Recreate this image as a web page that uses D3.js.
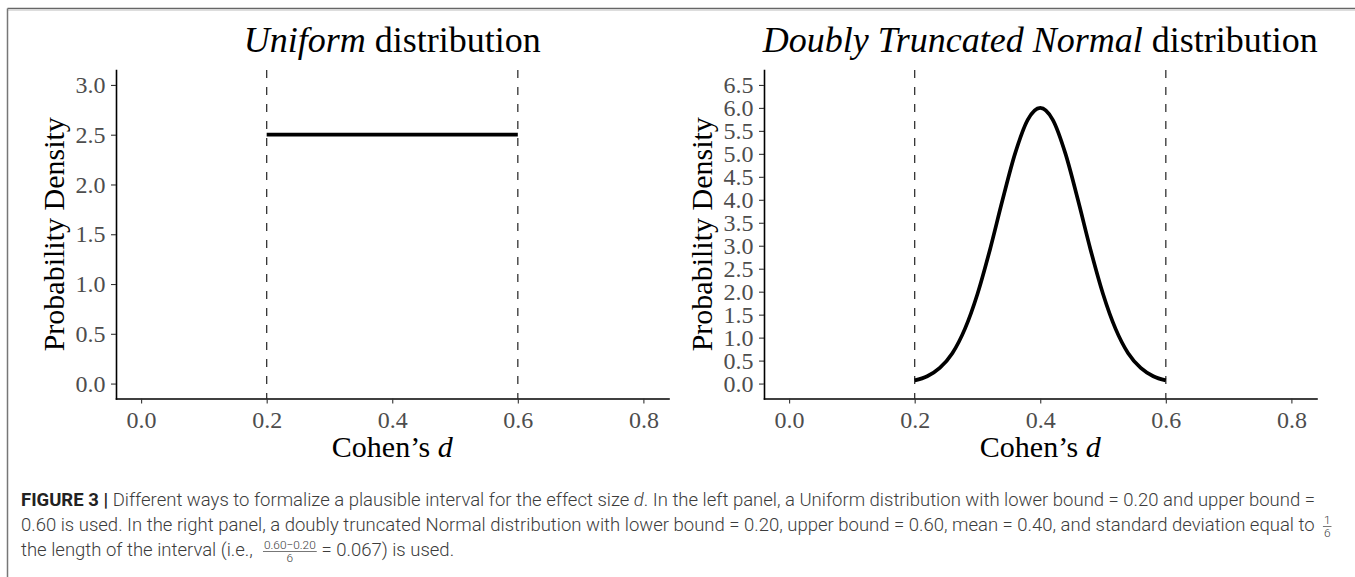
<!DOCTYPE html>
<html>
<head>
<meta charset="utf-8">
<script src="https://cdn.jsdelivr.net/npm/d3@7/dist/d3.min.js"></script>
<style>
  body { margin: 0; background: #fff; }
  .serif text { font-family: "Liberation Serif", "Times New Roman", serif; }
  .caption text { font-family: Roboto, "Liberation Sans", Arial, sans-serif; }
</style>
</head>
<body>
<svg id="fig" width="1355" height="577"></svg>
<script>
// ---- data ----
const xLimits = [0, 0.8];
const xTicks = [0.0, 0.2, 0.4, 0.6, 0.8];
const bounds = [0.2, 0.6];

const uniformYLimits = [0, 3];
const uniformYTicks = [0, 0.5, 1.0, 1.5, 2.0, 2.5, 3.0];
const uniformX = [0.2, 0.6];
const uniformY = [2.5, 2.5];

const normalYLimits = [0, 6.5];
const normalYTicks = [0, 0.5, 1.0, 1.5, 2.0, 2.5, 3.0, 3.5, 4.0, 4.5, 5.0, 5.5, 6.0, 6.5];
const normalX = [0.20, 0.22, 0.24, 0.26, 0.28, 0.30, 0.32, 0.34, 0.36, 0.38, 0.40,
                 0.42, 0.44, 0.46, 0.48, 0.50, 0.52, 0.54, 0.56, 0.58, 0.60];
const normalY = [0.07, 0.16, 0.34, 0.66, 1.19, 1.95, 2.92, 4.00, 5.01, 5.74, 6.00,
                 5.74, 5.01, 4.00, 2.92, 1.95, 1.19, 0.66, 0.34, 0.16, 0.07];

const svg = d3.select('#fig');
const panelW = 552.5;
const plotTop = 70, plotBottom = 398.5;

// ggplot-like 5% expansion of the limits
const expand = (lim) => {
    const pad = (lim[1] - lim[0]) * 0.05;
    return [lim[0] - pad, lim[1] + pad];
};

// figure frame (top + left rules)
svg.append('line').attr('x1', 7.5).attr('x2', 1355).attr('y1', 8.5).attr('y2', 8.5)
    .attr('stroke', '#666').attr('stroke-width', 1.5);
svg.append('line').attr('x1', 8).attr('x2', 1355).attr('y1', 10.5).attr('y2', 10.5)
    .attr('stroke', '#ddd').attr('stroke-width', 1);
svg.append('line').attr('x1', 7.5).attr('x2', 7.5).attr('y1', 8.5).attr('y2', 577)
    .attr('stroke', '#777').attr('stroke-width', 1.5);

function drawPanel(o) {
    const x = d3.scaleLinear().domain(expand(xLimits)).range([o.left, o.left + panelW]);
    const y = d3.scaleLinear().domain(expand(o.yLimits)).range([plotBottom, plotTop]);
    const g = svg.append('g').attr('class', 'serif');

    g.selectAll('line.bound')
        .data(bounds)
        .join('line')
        .attr('class', 'bound')
        .attr('x1', d => x(d)).attr('x2', d => x(d))
        .attr('y1', plotTop).attr('y2', plotBottom)
        .attr('stroke', '#333')
        .attr('stroke-width', 1.3)
        .attr('stroke-dasharray', '8,9');

    g.append('path')
        .datum(d3.zip(o.xs, o.ys))
        .attr('d', d3.line().x(d => x(d[0])).y(d => y(d[1])).curve(d3.curveMonotoneX))
        .attr('fill', 'none')
        .attr('stroke', '#000')
        .attr('stroke-width', 3.7)
        .attr('stroke-linejoin', 'round');

    const xAxis = g.append('g')
        .attr('transform', `translate(0,${plotBottom})`)
        .call(d3.axisBottom(x).tickValues(xTicks).tickFormat(d3.format('.1f'))
            .tickSize(5).tickSizeOuter(0).tickPadding(7));

    const yAxis = g.append('g')
        .attr('transform', `translate(${o.left},0)`)
        .call(d3.axisLeft(y).tickValues(o.yTicks).tickFormat(d3.format('.1f'))
            .tickSize(5).tickSizeOuter(0).tickPadding(5.5));

    [xAxis, yAxis].forEach(a => {
        a.select('.domain').attr('stroke', '#000').attr('stroke-width', 1.6)
            .attr('stroke-linecap', 'square');
        a.selectAll('.tick line').attr('stroke', '#333').attr('stroke-width', 1.1);
        a.selectAll('.tick text')
            .attr('fill', '#4d4d4d')
            .style('font-size', '24px')
            .style('font-family', '"Liberation Serif", "Times New Roman", serif');
    });

    const cx = o.left + panelW / 2;

    const title = g.append('text')
        .attr('x', cx)
        .attr('y', 51.7)
        .attr('text-anchor', 'middle')
        .style('font-size', '36px')
        .attr('fill', '#000');
    title.append('tspan').style('font-style', 'italic').text(o.titleItalic);
    title.append('tspan').text(' distribution');

    const xl = g.append('text')
        .attr('x', cx)
        .attr('y', 457)
        .attr('text-anchor', 'middle')
        .style('font-size', '30px');
    xl.append('tspan').text('Cohen\u2019s ');
    xl.append('tspan').style('font-style', 'italic').text('d');

    g.append('text')
        .attr('transform', `translate(${o.left - 52},${(plotTop + plotBottom) / 2}) rotate(-90)`)
        .attr('text-anchor', 'middle')
        .style('font-size', '30px')
        .text('Probability Density');
}

drawPanel({ left: 116, yLimits: uniformYLimits, yTicks: uniformYTicks,
            xs: uniformX, ys: uniformY, titleItalic: 'Uniform' });
drawPanel({ left: 764, yLimits: normalYLimits, yTicks: normalYTicks,
            xs: normalX, ys: normalY, titleItalic: 'Doubly Truncated Normal' });

// ---- caption ----
const cap = svg.append('g').attr('class', 'caption');
const capLeft = 21, capRight = 1315;
const baselines = [506, 531, 556];
const textCol = '#3c3c3c';

const l1 = cap.append('text').attr('x', capLeft).attr('y', baselines[0]).attr('fill', textCol)
    .style('font-weight', 300);
l1.append('tspan').style('font-weight', 'bold').attr('fill', '#222').text('FIGURE 3 | ');
l1.append('tspan').text('Different ways to formalize a plausible interval for the effect size ');
l1.append('tspan').style('font-style', 'italic').text('d');
l1.append('tspan').text('. In the left panel, a Uniform distribution with lower bound = 0.20 and upper bound =');

// fit the first line to its width, use the same size for the others
l1.style('font-size', '15px');
const capSize = 15 * (capRight - capLeft) / l1.node().getComputedTextLength();
l1.style('font-size', capSize + 'px');

const l2 = cap.append('text').attr('x', capLeft).attr('y', baselines[1]).attr('fill', textCol)
    .style('font-weight', 300).style('font-size', capSize + 'px')
    .text('0.60 is used. In the right panel, a doubly truncated Normal distribution with lower bound = 0.20, upper bound = 0.60, mean = 0.40, and standard deviation equal to');

const l3 = cap.append('text').attr('x', capLeft).attr('y', baselines[2]).attr('fill', textCol)
    .style('font-weight', 300).style('font-size', capSize + 'px')
    .text('the length of the interval (i.e.,');

function fraction(xLeft, base, num, den) {
    const fs = capSize * 0.64;
    const n = cap.append('text').attr('y', base - 7.5).attr('fill', textCol)
        .attr('text-anchor', 'middle').style('font-weight', 300).style('font-size', fs + 'px').text(num);
    const w = n.node().getComputedTextLength();
    const mid = xLeft + w / 2 + 1;
    n.attr('x', mid);
    cap.append('line').attr('x1', mid - w / 2 - 1).attr('x2', mid + w / 2 + 1)
        .attr('y1', base - 4.5).attr('y2', base - 4.5)
        .attr('stroke', textCol).attr('stroke-width', 0.7);
    cap.append('text').attr('x', mid).attr('y', base + 5.5).attr('fill', textCol)
        .attr('text-anchor', 'middle').style('font-weight', 300).style('font-size', fs + 'px').text(den);
    return mid + w / 2 + 2;
}

fraction(capLeft + l2.node().getComputedTextLength() + capSize * 0.45, baselines[1], '1', '6');
const fEnd = fraction(capLeft + l3.node().getComputedTextLength() + capSize * 0.55, baselines[2],
    '0.60\u22120.20', '6');
cap.append('text').attr('x', fEnd + capSize * 0.2).attr('y', baselines[2]).attr('fill', textCol)
    .style('font-weight', 300).style('font-size', capSize + 'px')
    .text('= 0.067) is used.');
</script>
</body>
</html>
